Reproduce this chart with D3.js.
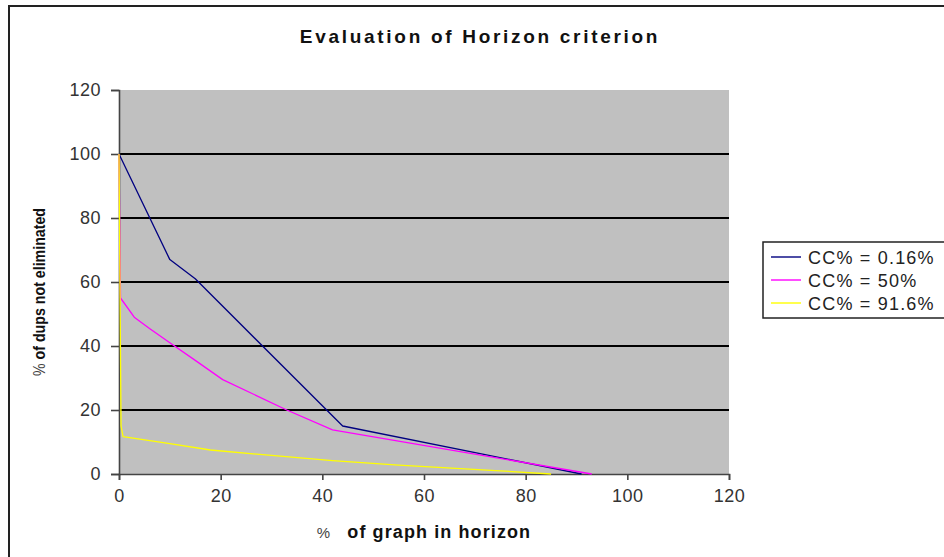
<!DOCTYPE html>
<html>
<head>
<meta charset="utf-8">
<script src="https://cdn.jsdelivr.net/npm/d3@7"></script>
<style>
  html, body { margin: 0; padding: 0; background: #fff; }
  svg { display: block; }
  text { font-family: "Liberation Sans", Arial, sans-serif; }
</style>
</head>
<body>
<svg id="chart" width="944" height="557"></svg>
<script>
// Series: % of graph in horizon (x) vs % of dups not eliminated (y)
const seriesNames = ["CC% = 0.16%", "CC% = 50%", "CC% = 91.6%"];
const seriesColors = ["#000080", "#ff00ff", "#ffff00"];

const cc016 = [[0, 100], [10, 67], [15, 61], [44, 15], [91, 0]];
const cc50 = [[0, 100], [0.3, 55], [3, 49], [6, 45.5], [10, 41], [15, 35.5], [20.4, 29.5], [33, 20], [42, 13.8], [93, 0]];
const cc916 = [[0, 100], [0.4, 15], [0.8, 11.7], [10, 9.5], [18, 7.5], [30, 5.8], [42, 4.2], [55, 2.8], [75, 1], [85, 0]];

const xTicks = [0, 20, 40, 60, 80, 100, 120];
const yTicks = [0, 20, 40, 60, 80, 100, 120];

const svg = d3.select("#chart");

// chart area frame (continues past the right and bottom edges)
svg.append("path")
  .attr("d", "M9,560 L9,6 L960,6")
  .attr("fill", "none")
  .attr("stroke", "#222")
  .attr("stroke-width", 2);

const plot = { left: 119, right: 729, top: 90, bottom: 474 };

const x = d3.scaleLinear().domain([0, 120]).range([plot.left, plot.right]);
const y = d3.scaleLinear().domain([0, 120]).range([plot.bottom, plot.top]);

// grey plot area
svg.append("rect")
  .attr("x", plot.left).attr("y", plot.top)
  .attr("width", plot.right - plot.left).attr("height", plot.bottom - plot.top)
  .attr("fill", "#c0c0c0");

// horizontal gridlines
svg.append("g")
  .selectAll("line")
  .data(yTicks.filter(d => d > 0 && d < 120))
  .join("line")
  .attr("x1", plot.left).attr("x2", plot.right)
  .attr("y1", d => y(d)).attr("y2", d => y(d))
  .attr("stroke", "#000")
  .attr("stroke-width", 1.8);

// axes
const yAxis = svg.append("g")
  .attr("transform", `translate(${plot.left},0)`)
  .call(d3.axisLeft(y).tickValues(yTicks).tickSize(8).tickPadding(10).tickFormat(d3.format("d")));
const xAxis = svg.append("g")
  .attr("transform", `translate(0,${plot.bottom})`)
  .call(d3.axisBottom(x).tickValues(xTicks).tickSize(6).tickPadding(9).tickFormat(d3.format("d")));

[yAxis, xAxis].forEach(g => {
  g.select(".domain").attr("stroke", "#444").attr("stroke-width", 1.6);
  g.selectAll(".tick line").attr("stroke", "#444").attr("stroke-width", 1.6);
  g.selectAll(".tick text")
    .attr("fill", "#333")
    .style("font-size", "18px")
    .style("letter-spacing", "0.5px")
    .style("font-family", "'Liberation Sans', Arial, sans-serif");
});

// data lines
const line = d3.line().x(d => x(d[0])).y(d => y(d[1]));
[cc016, cc50, cc916].forEach((data, i) => {
  svg.append("path")
    .datum(data)
    .attr("d", line)
    .attr("fill", "none")
    .attr("stroke", seriesColors[i])
    .attr("stroke-width", 1.3)
    .attr("stroke-linejoin", "round");
});

// title
svg.append("text")
  .attr("x", 480).attr("y", 43)
  .attr("text-anchor", "middle")
  .style("font-size", "19px")
  .style("font-weight", "bold")
  .style("letter-spacing", "2.7px")
  .attr("fill", "#111")
  .text("Evaluation of Horizon criterion");

// axis titles (the leading % sign is set lighter than the words)
const xTitle = svg.append("text")
  .attr("x", (plot.left + plot.right) / 2).attr("y", 538)
  .attr("text-anchor", "middle")
  .style("font-size", "18px")
  .style("font-weight", "bold")
  .style("letter-spacing", "1.1px")
  .attr("fill", "#111");
xTitle.append("tspan").style("font-weight", "normal").style("font-size", "15px").attr("fill", "#444").text("%");
xTitle.append("tspan").attr("dx", 10).text(" of graph in horizon");

const yTitle = svg.append("text")
  .attr("transform", `translate(45,${(plot.top + plot.bottom) / 2 + 10}) rotate(-90)`)
  .attr("text-anchor", "middle")
  .attr("textLength", 168)
  .attr("lengthAdjust", "spacingAndGlyphs")
  .style("font-size", "16px")
  .style("font-weight", "bold")
  .attr("fill", "#111");
yTitle.append("tspan").style("font-weight", "normal").attr("fill", "#444").text("%");
yTitle.append("tspan").text(" of dups not eliminated");

// legend
const legend = svg.append("g").attr("transform", "translate(763,242)");
legend.append("rect")
  .attr("x", 0).attr("y", 0).attr("width", 200).attr("height", 76)
  .attr("fill", "#fff").attr("stroke", "#222").attr("stroke-width", 1.5);
seriesNames.forEach((name, i) => {
  const cy = 15 + i * 23;
  legend.append("line")
    .attr("x1", 8).attr("x2", 38).attr("y1", cy).attr("y2", cy)
    .attr("stroke", seriesColors[i]).attr("stroke-width", 1.4);
  legend.append("text")
    .attr("x", 45).attr("y", cy + 6.5)
    .style("font-size", "18px")
    .style("letter-spacing", "1.2px")
    .attr("fill", "#222")
    .text(name);
});
</script>
</body>
</html>
